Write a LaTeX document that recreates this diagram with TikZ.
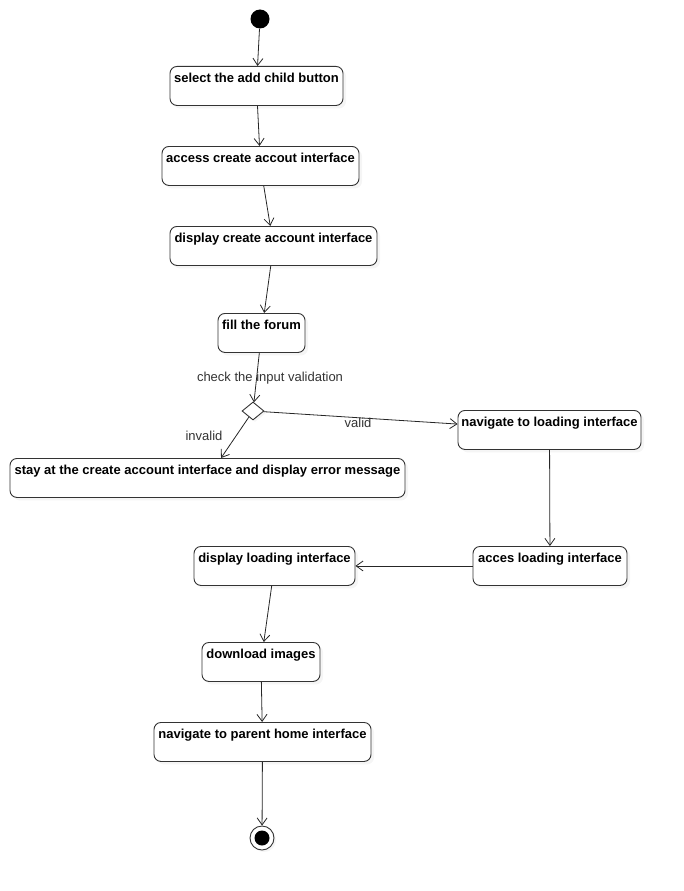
\documentclass[tikz,border=0pt]{standalone}
\usepackage{fontspec}
\setmainfont{Liberation Sans}
\usetikzlibrary{arrows.meta,shapes.geometric,shadows}

\begin{document}
\begin{tikzpicture}[x=1pt,y=-1pt,
    activity/.style={draw=black!80, line width=0.9pt, rounded corners=7pt, fill=white,
      drop shadow={shadow xshift=3pt,shadow yshift=-3pt,fill=black!8},
      font=\fontsize{13}{15}\selectfont\bfseries, anchor=north,
      inner xsep=3pt, inner ysep=4pt, text height=12pt, text depth=19pt},
    flow/.style={draw=black!85, line width=0.8pt, -{Straight Barb[length=7pt,width=10pt]}},
    guard/.style={font=\fontsize{13}{15}\selectfont, text=black!80}]
    % page frame
    \useasboundingbox (0,0) rectangle (683,891);
    % start and end points
    \node[circle, fill=black, minimum size=19pt, inner sep=0pt] (start) at (260,19) {};
    \node[circle, draw=black!80, line width=0.9pt, fill=white, minimum size=24pt, inner sep=0pt,
      drop shadow={shadow xshift=2pt,shadow yshift=-2pt,fill=black!8}] (stop) at (262,838) {};
    \fill (stop) circle [radius=7.5];
    % the activities
    \node[activity, minimum width=173pt] (select) at (256.5,66) {select the add child button};
    \node[activity, minimum width=197pt] (access) at (260.5,146) {access create accout interface};
    \node[activity, minimum width=207pt] (display) at (273.5,226) {display create account interface};
    \node[activity, minimum width=87pt] (fill) at (261.5,313) {fill the forum};
    \node[diamond, draw=black!80, line width=0.9pt, fill=white, minimum width=22pt, minimum height=18pt,
      inner sep=0pt, drop shadow={shadow xshift=2pt,shadow yshift=-2pt,fill=black!8}] (check) at (253,411) {};
    \node[activity, minimum width=395pt] (stay) at (207.5,458) {stay at the create account interface and display error message};
    \node[activity, minimum width=183pt] (navload) at (549.5,410) {navigate to loading interface};
    \node[activity, minimum width=154pt] (acces) at (550,546) {acces loading interface};
    \node[activity, minimum width=161pt] (dispload) at (274.5,546) {display loading interface};
    \node[activity, minimum width=118pt] (download) at (261,642) {download images};
    \node[activity, minimum width=217pt] (navhome) at (262.5,722) {navigate to parent home interface};
    % the flows
    \draw[flow] (start) -- (select);
    \draw[flow] (select) -- (access);
    \draw[flow] (access) -- (display);
    \draw[flow] (display) -- (fill);
    \draw[flow] (fill) -- (check);
    \draw[flow] (check) -- (stay);
    \draw[flow] (check) -- (navload);
    \draw[flow] (navload) -- (acces);
    \draw[flow] (acces) -- (dispload);
    \draw[flow] (dispload) -- (download);
    \draw[flow] (download) -- (navhome);
    \draw[flow] (navhome) -- (stop);
    % guards
    \node[guard] (checklbl) at (270,378) {check the input validation};
    \node[guard] (invalidlbl) at (204,436) {invalid};
    \node[guard] (validlbl) at (358,423) {valid};
\end{tikzpicture}
\end{document}
